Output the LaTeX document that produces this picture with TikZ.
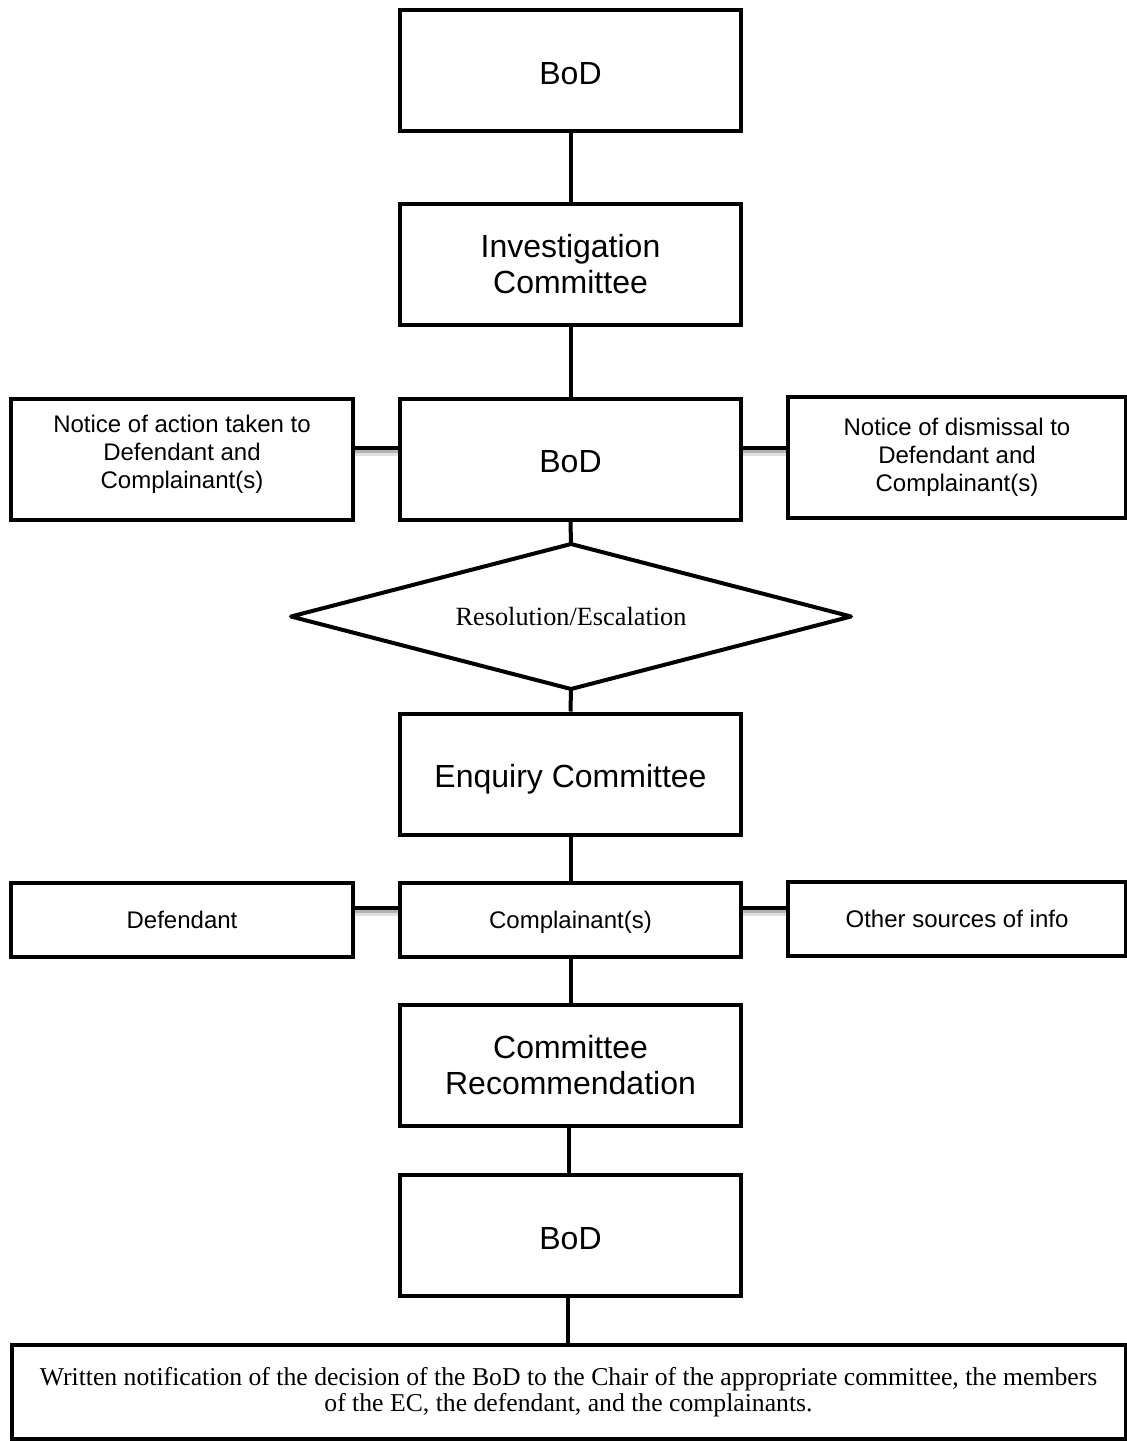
\documentclass[tikz,border=0pt]{standalone}
\usepackage{fontspec}
\setmainfont{Liberation Serif}
\newfontfamily\hv{Liberation Sans}
\usetikzlibrary{shapes.geometric}
\begin{document}
\begin{tikzpicture}[x=1pt,y=-1pt,
  box/.style={draw, line width=4pt, rectangle, inner sep=0pt, align=center, minimum width=341pt, font=\hv\fontsize{32}{36}\selectfont},
  bigbox/.style={box, minimum height=121pt},
  smallbox/.style={box, minimum height=74pt, font=\hv\fontsize{24}{28}\selectfont},
  sidebox/.style={box, minimum height=121pt, font=\hv\fontsize{24}{28}\selectfont},
  link/.style={line width=4pt},
  shadeA/.style={line width=3pt, draw=black!30},
  shadeB/.style={line width=4pt, draw=black!12}]
\useasboundingbox (0,0) rectangle (1127,1441);
\node[bigbox] (bod1) at (570.5,70.5) {\rule{0pt}{28pt}BoD};
\node[bigbox] (inv) at (570.5,264.5) {Investigation\\Committee};
\node[bigbox] (bod2) at (570.5,459) {\rule{0pt}{28pt}BoD};
\node[sidebox, minimum width=342pt] (noticeL) at (182,459) {Notice of action taken to\\Defendant and\\Complainant(s)\\[-14pt]};
\node[sidebox, minimum width=338pt] (noticeR) at (957,457) {Notice of dismissal to\\Defendant and\\Complainant(s)};
\node[draw, line width=4pt, line join=round, diamond, aspect=3.86, minimum width=560pt, minimum height=145pt, inner sep=0pt, outer sep=0pt, font=\fontsize{26.3}{30}\selectfont] (dec) at (571,616.5) {Resolution/Escalation};
\node[bigbox] (enq) at (570.5,774) {\rule{0pt}{34pt}Enquiry Committee};
\node[smallbox, minimum width=342pt] (def) at (182,920) {Defendant};
\node[smallbox] (comp) at (570.5,920) {\rule{0pt}{22pt}Complainant(s)};
\node[smallbox, minimum width=338pt] (other) at (957,919) {Other sources of info};
\node[bigbox] (rec) at (570.5,1065.5) {Committee\\Recommendation};
\node[bigbox] (bod3) at (570.5,1235.5) {\rule{0pt}{28pt}BoD};
\node[draw, line width=4pt, rectangle, inner sep=0pt, minimum width=1114pt, minimum height=94pt, align=center, font=\fontsize{25.7}{26}\selectfont] (note) at (568.5,1392) {Written notification of the decision of the BoD to the Chair of the appropriate committee, the members\\of the EC, the defendant, and the complainants.};
% soft shadows under horizontal links
\draw[shadeB] ([yshift=-6pt]bod2.west |- 0,448) -- ([yshift=-6pt]noticeL.east |- 0,448);
\draw[shadeA] ([yshift=-3.5pt]bod2.west |- 0,448) -- ([yshift=-3.5pt]noticeL.east |- 0,448);
\draw[shadeB] ([yshift=-6pt]bod2.east |- 0,448) -- ([yshift=-6pt]noticeR.west |- 0,448);
\draw[shadeA] ([yshift=-3.5pt]bod2.east |- 0,448) -- ([yshift=-3.5pt]noticeR.west |- 0,448);
\draw[shadeB] ([yshift=-6pt]comp.west |- 0,908) -- ([yshift=-6pt]def.east |- 0,908);
\draw[shadeA] ([yshift=-3.5pt]comp.west |- 0,908) -- ([yshift=-3.5pt]def.east |- 0,908);
\draw[shadeB] ([yshift=-6pt]comp.east |- 0,908) -- ([yshift=-6pt]other.west |- 0,908);
\draw[shadeA] ([yshift=-3.5pt]comp.east |- 0,908) -- ([yshift=-3.5pt]other.west |- 0,908);
% links
\draw[link] (bod1) -- (inv);
\draw[link] (inv) -- (bod2);
\draw[link] (bod2.south) -- (dec.north);
\draw[link] (dec.south) -- (enq.north);
\draw[link] (enq) -- (comp);
\draw[link] (comp) -- (rec);
\draw[link] (rec.south -| 569,0) -- (bod3.north -| 569,0);
\draw[link] (bod3.south -| 568,0) -- (note.north -| 568,0);
\draw[link] (bod2.west |- 0,448) -- (noticeL.east |- 0,448);
\draw[link] (bod2.east |- 0,448) -- (noticeR.west |- 0,448);
\draw[link] (comp.west |- 0,908) -- (def.east |- 0,908);
\draw[link] (comp.east |- 0,908) -- (other.west |- 0,908);
\end{tikzpicture}
\end{document}
